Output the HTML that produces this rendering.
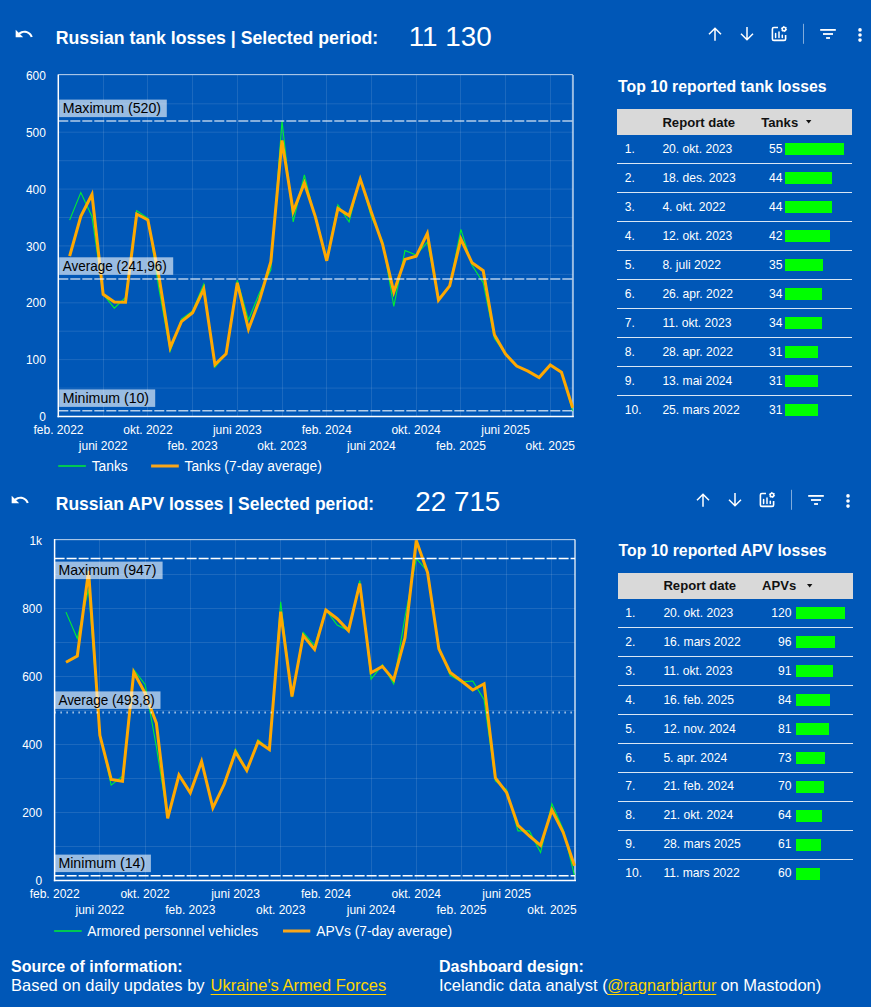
<!DOCTYPE html>
<html><head><meta charset="utf-8"><style>
html,body{margin:0;padding:0;}
body{width:871px;height:1007px;background:#0057b7;position:relative;overflow:hidden;font-family:"Liberation Sans",sans-serif;color:#fff;}
.abs{position:absolute;}
.ht{position:absolute;font-weight:bold;font-size:17.8px;white-space:nowrap;line-height:20px;}
.hn{position:absolute;font-size:27.8px;white-space:nowrap;line-height:32px;}
.tt{position:absolute;font-weight:bold;font-size:15.8px;white-space:nowrap;line-height:20px;}
.th{position:absolute;background:#d9d9d9;}
.tht{position:absolute;font-weight:bold;font-size:13.1px;color:#111;white-space:nowrap;line-height:15px;}
.td{position:absolute;font-size:12.1px;white-space:nowrap;line-height:14px;}
.bar{position:absolute;height:11.8px;background:#00ff00;}
.sep{position:absolute;height:1px;background:rgba(255,255,255,0.85);}
.ft{position:absolute;font-size:16.5px;white-space:nowrap;line-height:19px;}
.ft.b{font-size:16px;font-weight:bold;}
.ft.lk{color:#ffd500;text-decoration:underline;text-underline-offset:2.5px;}
svg text{font-family:"Liberation Sans",sans-serif;}
.grid{stroke:rgba(255,255,255,0.11);stroke-width:1;}
.bt{stroke:rgba(255,255,255,0.65);stroke-width:1;}
.br{stroke:rgba(255,255,255,0.6);stroke-width:2;}
.ax{stroke:#fff;stroke-width:1.5;}
.rl{stroke:rgba(255,255,255,0.7);stroke-width:1.5;}
.rl2{stroke:#fff;stroke-width:1.5;}
.rl3{stroke:#fff;stroke-width:2;}
.sg{fill:none;stroke:#00f030;stroke-width:1.1;stroke-linejoin:miter;stroke-miterlimit:4;}
.so{fill:none;stroke:#ffa800;stroke-width:3;stroke-linejoin:miter;stroke-miterlimit:4;}
.lb{fill:rgba(255,255,255,0.6);}
.lbt{font-size:14.2px;fill:#000;}
.yl{font-size:11.9px;fill:#fff;}
.xl{font-size:12px;fill:#fff;}
.lg{font-size:13.8px;fill:#fff;}
</style></head><body>
<svg class="abs" style="left:13.8px;top:24.3px" width="20" height="20" viewBox="0 0 24 24"><path fill="#fff" d="M12.5 8c-2.65 0-5.05.99-6.9 2.6L2 7v9h9l-3.62-3.62c1.39-1.16 3.16-1.88 5.12-1.88 3.54 0 6.55 2.31 7.6 5.5l2.37-.78C21.08 11.03 17.15 8 12.5 8z"/></svg>
<div class="ht" style="left:55.8px;top:27.8px;font-size:17.7px">Russian tank losses | Selected period:</div>
<div class="hn" style="left:408.7px;top:21px">11 130</div>
<svg class="abs" style="left:0;top:0px" width="871" height="60">
<g fill="none" stroke="#fff" stroke-width="1.5">
<path d="M715 40.7V28.5M709 34.2l6-6 6 6"/>
<path d="M747 27V39.5M741 33.7l6 6 6-6"/>
<path d="M778 27.5H773.9a1.5 1.5 0 0 0 -1.5 1.5V38.9a1.5 1.5 0 0 0 1.5 1.5H784.1a1.5 1.5 0 0 0 1.5-1.5V35" stroke-width="1.6"/>
<path d="M775.6 33.6v3.9M779 32v5.5M782.3 35.2v2.3" stroke-width="1.5" stroke-linecap="round"/>
</g>
<circle cx="784" cy="29" r="1.8" fill="none" stroke="#fff" stroke-width="1.5"/>
<circle cx="784" cy="29" r="2.6" fill="none" stroke="#fff" stroke-width="1" stroke-dasharray="1.36 1.36"/>
<line x1="803.5" x2="803.5" y1="23.8" y2="43.8" stroke="rgba(255,255,255,0.5)" stroke-width="1"/>
<rect x="820.2" y="29" width="15.6" height="1.8" fill="#fff"/>
<rect x="823" y="33.1" width="10" height="1.8" fill="#fff"/>
<rect x="826.1" y="37.1" width="3.9" height="1.8" fill="#fff"/>
<circle cx="860" cy="29.9" r="1.8" fill="#fff"/>
<circle cx="860" cy="35" r="1.8" fill="#fff"/>
<circle cx="860" cy="40.1" r="1.8" fill="#fff"/>
</svg>
<svg class="abs" style="left:10.2px;top:489.8px" width="20" height="20" viewBox="0 0 24 24"><path fill="#fff" d="M12.5 8c-2.65 0-5.05.99-6.9 2.6L2 7v9h9l-3.62-3.62c1.39-1.16 3.16-1.88 5.12-1.88 3.54 0 6.55 2.31 7.6 5.5l2.37-.78C21.08 11.03 17.15 8 12.5 8z"/></svg>
<div class="ht" style="left:55.8px;top:493.9px;font-size:17.5px">Russian APV losses | Selected period:</div>
<div class="hn" style="left:415.3px;top:486px">22 715</div>
<svg class="abs" style="left:0;top:465.5px" width="871" height="60">
<g fill="none" stroke="#fff" stroke-width="1.5">
<path d="M703 40.7V28.5M697 34.2l6-6 6 6"/>
<path d="M735 27V39.5M729 33.7l6 6 6-6"/>
<path d="M766 27.5H761.9a1.5 1.5 0 0 0 -1.5 1.5V38.9a1.5 1.5 0 0 0 1.5 1.5H772.1a1.5 1.5 0 0 0 1.5-1.5V35" stroke-width="1.6"/>
<path d="M763.6 33.6v3.9M767 32v5.5M770.3 35.2v2.3" stroke-width="1.5" stroke-linecap="round"/>
</g>
<circle cx="772" cy="29" r="1.8" fill="none" stroke="#fff" stroke-width="1.5"/>
<circle cx="772" cy="29" r="2.6" fill="none" stroke="#fff" stroke-width="1" stroke-dasharray="1.36 1.36"/>
<line x1="791.5" x2="791.5" y1="23.8" y2="43.8" stroke="rgba(255,255,255,0.5)" stroke-width="1"/>
<rect x="808.2" y="29" width="15.6" height="1.8" fill="#fff"/>
<rect x="811" y="33.1" width="10" height="1.8" fill="#fff"/>
<rect x="814.1" y="37.1" width="3.9" height="1.8" fill="#fff"/>
<circle cx="848" cy="29.9" r="1.8" fill="#fff"/>
<circle cx="848" cy="35" r="1.8" fill="#fff"/>
<circle cx="848" cy="40.1" r="1.8" fill="#fff"/>
</svg>
<svg class="abs" style="left:0;top:0" width="871" height="1007">
<line x1="58.3" x2="572.9" y1="388.1" y2="388.1" class="grid"/>
<line x1="58.3" x2="572.9" y1="359.6" y2="359.6" class="grid"/>
<line x1="58.3" x2="572.9" y1="331.2" y2="331.2" class="grid"/>
<line x1="58.3" x2="572.9" y1="302.8" y2="302.8" class="grid"/>
<line x1="58.3" x2="572.9" y1="274.4" y2="274.4" class="grid"/>
<line x1="58.3" x2="572.9" y1="245.9" y2="245.9" class="grid"/>
<line x1="58.3" x2="572.9" y1="217.5" y2="217.5" class="grid"/>
<line x1="58.3" x2="572.9" y1="189.1" y2="189.1" class="grid"/>
<line x1="58.3" x2="572.9" y1="160.7" y2="160.7" class="grid"/>
<line x1="58.3" x2="572.9" y1="132.2" y2="132.2" class="grid"/>
<line x1="58.3" x2="572.9" y1="103.8" y2="103.8" class="grid"/>
<line x1="58.3" x2="572.9" y1="75.4" y2="75.4" class="grid"/>
<line x1="103.5" x2="103.5" y1="75" y2="416.6" class="grid"/>
<line x1="147.5" x2="147.5" y1="75" y2="416.6" class="grid"/>
<line x1="192.5" x2="192.5" y1="75" y2="416.6" class="grid"/>
<line x1="237.5" x2="237.5" y1="75" y2="416.6" class="grid"/>
<line x1="282.5" x2="282.5" y1="75" y2="416.6" class="grid"/>
<line x1="326.5" x2="326.5" y1="75" y2="416.6" class="grid"/>
<line x1="371.5" x2="371.5" y1="75" y2="416.6" class="grid"/>
<line x1="416.5" x2="416.5" y1="75" y2="416.6" class="grid"/>
<line x1="460.5" x2="460.5" y1="75" y2="416.6" class="grid"/>
<line x1="505.5" x2="505.5" y1="75" y2="416.6" class="grid"/>
<line x1="550.5" x2="550.5" y1="75" y2="416.6" class="grid"/>
<line x1="58.3" x2="572.9" y1="74.5" y2="74.5" class="bt"/>
<line x1="572.9" x2="572.9" y1="75" y2="416.6" class="br"/>
<clipPath id="ct"><rect x="53.3" y="75" width="524.6" height="346.6"/></clipPath>
<g clip-path="url(#ct)">
<polyline points="69.63,220.1 80.81,192.6 91.98,216.4 103.16,294.3 114.34,308.2 125.52,297.5 136.70,210.6 147.87,218.3 159.05,289.4 170.23,351.2 181.41,319.0 192.59,311.0 203.76,284.0 214.94,367.3 226.12,353.8 237.30,280.3 248.48,320.0 259.65,292.6 270.83,269.8 282.01,121.0 293.19,221.9 304.37,175.0 315.54,219.6 326.72,258.4 337.90,205.0 349.08,222.0 360.26,177.5 371.43,217.2 382.61,241.1 393.79,306.3 404.97,250.6 416.15,255.0 427.32,242.1 438.50,298.6 449.68,285.9 460.86,229.4 472.04,265.2 483.21,282.7 494.39,338.3 505.57,354.1 516.75,366.0 527.93,371.1 539.10,377.6 550.28,364.9 561.46,372.2 572.64,410.8" class="sg"/>
<polyline points="69.63,256.2 80.81,216.4 91.98,194.5 103.16,294.3 114.34,302.0 125.52,302.3 136.70,214.0 147.87,219.9 159.05,276.9 170.23,347.6 181.41,321.6 192.59,312.7 203.76,289.0 214.94,364.6 226.12,353.8 237.30,282.8 248.48,329.2 259.65,299.5 270.83,261.8 282.01,140.5 293.19,211.6 304.37,183.0 315.54,217.3 326.72,260.8 337.90,208.5 349.08,215.6 360.26,179.1 371.43,212.5 382.61,244.3 393.79,292.0 404.97,259.4 416.15,256.3 427.32,233.4 438.50,300.2 449.68,285.9 460.86,239.0 472.04,262.8 483.21,270.7 494.39,334.8 505.57,354.1 516.75,366.0 527.93,371.1 539.10,377.6 550.28,364.9 561.46,372.2 572.64,407.8" class="so"/>
</g>
<line x1="58.3" x2="572.9" y1="120.9" y2="120.9" class="rl" stroke-dasharray="10 2"/>
<line x1="58.3" x2="572.9" y1="278.9" y2="278.9" class="rl" stroke-dasharray="10 2"/>
<line x1="58.3" x2="572.9" y1="410.8" y2="410.8" class="rl" stroke-dasharray="10 2"/>
<rect x="59.2" y="99.6" width="107.6" height="17.5" class="lb"/>
<text x="62.7" y="113.39999999999999" class="lbt" textLength="98.4" lengthAdjust="spacingAndGlyphs">Maximum (520)</text>
<rect x="59.2" y="257.3" width="114" height="17.5" class="lb"/>
<text x="62.7" y="271.1" class="lbt" textLength="104.1" lengthAdjust="spacingAndGlyphs">Average (241,96)</text>
<rect x="59.2" y="389.4" width="96" height="17.5" class="lb"/>
<text x="62.7" y="403.2" class="lbt" textLength="86.4" lengthAdjust="spacingAndGlyphs">Minimum (10)</text>
<line x1="58.3" x2="58.3" y1="74.5" y2="417.35" class="ax"/>
<line x1="57.55" x2="573.9" y1="416.6" y2="416.6" class="ax"/>
<text x="45.8" y="421.1" class="yl" text-anchor="end">0</text>
<text x="45.8" y="364.2" class="yl" text-anchor="end">100</text>
<text x="45.8" y="307.4" class="yl" text-anchor="end">200</text>
<text x="45.8" y="250.5" class="yl" text-anchor="end">300</text>
<text x="45.8" y="193.7" class="yl" text-anchor="end">400</text>
<text x="45.8" y="136.8" class="yl" text-anchor="end">500</text>
<text x="45.8" y="80.0" class="yl" text-anchor="end">600</text>
<text x="58.5" y="434.2" class="xl" text-anchor="middle">feb. 2022</text>
<text x="103.2" y="449.9" class="xl" text-anchor="middle">juni 2022</text>
<text x="147.9" y="434.2" class="xl" text-anchor="middle">okt. 2022</text>
<text x="192.6" y="449.9" class="xl" text-anchor="middle">feb. 2023</text>
<text x="237.3" y="434.2" class="xl" text-anchor="middle">juni 2023</text>
<text x="282.0" y="449.9" class="xl" text-anchor="middle">okt. 2023</text>
<text x="326.7" y="434.2" class="xl" text-anchor="middle">feb. 2024</text>
<text x="371.4" y="449.9" class="xl" text-anchor="middle">juni 2024</text>
<text x="416.1" y="434.2" class="xl" text-anchor="middle">okt. 2024</text>
<text x="460.9" y="449.9" class="xl" text-anchor="middle">feb. 2025</text>
<text x="505.6" y="434.2" class="xl" text-anchor="middle">juni 2025</text>
<text x="550.3" y="449.9" class="xl" text-anchor="middle">okt. 2025</text>
<line x1="58.2" x2="85.9" y1="466" y2="466" stroke="#00c853" stroke-width="2"/>
<text x="91.7" y="470.8" class="lg">Tanks</text>
<line x1="151.1" x2="178.8" y1="466" y2="466" stroke="#f9a61a" stroke-width="3"/>
<text x="184.5" y="470.8" class="lg">Tanks (7-day average)</text>
<line x1="54.6" x2="575" y1="846.5" y2="846.5" class="grid"/>
<line x1="54.6" x2="575" y1="812.5" y2="812.5" class="grid"/>
<line x1="54.6" x2="575" y1="778.5" y2="778.5" class="grid"/>
<line x1="54.6" x2="575" y1="744.5" y2="744.5" class="grid"/>
<line x1="54.6" x2="575" y1="710.5" y2="710.5" class="grid"/>
<line x1="54.6" x2="575" y1="676.5" y2="676.5" class="grid"/>
<line x1="54.6" x2="575" y1="642.5" y2="642.5" class="grid"/>
<line x1="54.6" x2="575" y1="608.5" y2="608.5" class="grid"/>
<line x1="54.6" x2="575" y1="574.5" y2="574.5" class="grid"/>
<line x1="54.6" x2="575" y1="540.5" y2="540.5" class="grid"/>
<line x1="99.5" x2="99.5" y1="539.6" y2="880.6" class="grid"/>
<line x1="145.5" x2="145.5" y1="539.6" y2="880.6" class="grid"/>
<line x1="190.5" x2="190.5" y1="539.6" y2="880.6" class="grid"/>
<line x1="235.5" x2="235.5" y1="539.6" y2="880.6" class="grid"/>
<line x1="280.5" x2="280.5" y1="539.6" y2="880.6" class="grid"/>
<line x1="325.5" x2="325.5" y1="539.6" y2="880.6" class="grid"/>
<line x1="371.5" x2="371.5" y1="539.6" y2="880.6" class="grid"/>
<line x1="416.5" x2="416.5" y1="539.6" y2="880.6" class="grid"/>
<line x1="461.5" x2="461.5" y1="539.6" y2="880.6" class="grid"/>
<line x1="506.5" x2="506.5" y1="539.6" y2="880.6" class="grid"/>
<line x1="551.5" x2="551.5" y1="539.6" y2="880.6" class="grid"/>
<line x1="54.6" x2="575" y1="539.5" y2="539.5" class="bt"/>
<line x1="575" x2="575" y1="539.6" y2="880.6" class="br"/>
<clipPath id="ca"><rect x="49.6" y="539.6" width="530.4" height="346.0"/></clipPath>
<g clip-path="url(#ca)">
<polyline points="65.98,612.1 77.28,638.5 88.58,589.0 99.88,734.0 111.18,785.1 122.48,776.2 133.78,669.7 145.08,684.5 156.38,746.7 167.68,818.0 178.98,775.0 190.28,792.8 201.58,761.4 212.88,807.8 224.18,784.3 235.48,749.0 246.78,770.5 258.08,739.7 269.38,749.6 280.68,601.8 291.98,697.1 303.28,632.6 314.58,645.5 325.88,610.0 337.18,625.1 348.48,630.6 359.78,580.5 371.08,679.1 382.38,664.8 393.68,683.9 404.98,617.0 416.28,558.5 427.58,571.5 438.88,647.0 450.18,675.3 461.48,681.9 472.78,681.0 484.08,699.8 495.38,780.9 506.68,789.9 517.98,830.9 529.28,830.9 540.58,852.5 551.88,803.8 563.18,829.5 574.48,875.7" class="sg"/>
<polyline points="65.98,662.2 77.28,656.0 88.58,571.0 99.88,735.3 111.18,779.4 122.48,781.3 133.78,672.2 145.08,693.0 156.38,723.2 167.68,818.4 178.98,775.0 190.28,792.8 201.58,761.4 212.88,807.8 224.18,784.3 235.48,752.0 246.78,770.5 258.08,741.7 269.38,749.6 280.68,611.7 291.98,696.5 303.28,635.6 314.58,649.4 325.88,610.0 337.18,618.7 348.48,630.6 359.78,583.6 371.08,672.7 382.38,666.4 393.68,679.9 404.98,638.0 416.28,540.5 427.58,572.5 438.88,648.9 450.18,672.5 461.48,681.0 472.78,690.0 484.08,683.8 495.38,778.0 506.68,792.7 517.98,825.4 529.28,835.8 540.58,845.5 551.88,810.0 563.18,832.3 574.48,865.7" class="so"/>
</g>
<line x1="54.6" x2="575" y1="558.5" y2="558.5" class="rl2" stroke-dasharray="10 2"/>
<line x1="54.6" x2="575" y1="712.6" y2="712.6" class="rl3" stroke-dasharray="1 5"/>
<line x1="54.6" x2="575" y1="875.7" y2="875.7" class="rl2" stroke-dasharray="10 2"/>
<rect x="54.9" y="561.6" width="107.7" height="17.5" class="lb"/>
<text x="58.4" y="575.4" class="lbt" textLength="98" lengthAdjust="spacingAndGlyphs">Maximum (947)</text>
<rect x="54.9" y="691.4" width="105.6" height="17.5" class="lb"/>
<text x="58.4" y="705.1999999999999" class="lbt" textLength="96.4" lengthAdjust="spacingAndGlyphs">Average (493,8)</text>
<rect x="54.9" y="854.6" width="96" height="17.5" class="lb"/>
<text x="58.4" y="868.4" class="lbt" textLength="86.8" lengthAdjust="spacingAndGlyphs">Minimum (14)</text>
<line x1="54.6" x2="54.6" y1="539.1" y2="881.35" class="ax"/>
<line x1="53.85" x2="576" y1="880.6" y2="880.6" class="ax"/>
<text x="42" y="885.1" class="yl" text-anchor="end">0</text>
<text x="42" y="817.1" class="yl" text-anchor="end">200</text>
<text x="42" y="749.1" class="yl" text-anchor="end">400</text>
<text x="42" y="681.1" class="yl" text-anchor="end">600</text>
<text x="42" y="613.1" class="yl" text-anchor="end">800</text>
<text x="42" y="545.1" class="yl" text-anchor="end">1k</text>
<text x="54.7" y="898.3" class="xl" text-anchor="middle">feb. 2022</text>
<text x="99.9" y="914.1" class="xl" text-anchor="middle">juni 2022</text>
<text x="145.1" y="898.3" class="xl" text-anchor="middle">okt. 2022</text>
<text x="190.3" y="914.1" class="xl" text-anchor="middle">feb. 2023</text>
<text x="235.5" y="898.3" class="xl" text-anchor="middle">juni 2023</text>
<text x="280.7" y="914.1" class="xl" text-anchor="middle">okt. 2023</text>
<text x="325.9" y="898.3" class="xl" text-anchor="middle">feb. 2024</text>
<text x="371.1" y="914.1" class="xl" text-anchor="middle">juni 2024</text>
<text x="416.3" y="898.3" class="xl" text-anchor="middle">okt. 2024</text>
<text x="461.5" y="914.1" class="xl" text-anchor="middle">feb. 2025</text>
<text x="506.7" y="898.3" class="xl" text-anchor="middle">juni 2025</text>
<text x="551.9" y="914.1" class="xl" text-anchor="middle">okt. 2025</text>
<line x1="54.1" x2="81.7" y1="931" y2="931" stroke="#00c853" stroke-width="2"/>
<text x="87.2" y="936.4" class="lg">Armored personnel vehicles</text>
<line x1="283" x2="310.3" y1="931" y2="931" stroke="#f9a61a" stroke-width="3"/>
<text x="316.3" y="936.4" class="lg">APVs (7-day average)</text>
</svg>
<div class="tt" style="left:618px;top:76.7px">Top 10 reported tank losses</div>
<div class="th" style="left:617.2px;top:109.3px;width:234.79999999999995px;height:25.5px"></div>
<div class="tht" style="left:662.4px;top:114.8px">Report date</div>
<div class="tht" style="left:761.3px;top:114.8px">Tanks</div>
<svg class="abs" style="left:805.8px;top:120.1px" width="6" height="4"><path d="M0 0H5.4L2.7 3.6Z" fill="#111"/></svg>
<div class="td" style="left:624.8px;top:142.0px">1.</div>
<div class="td" style="left:662.4px;top:142.0px">20. okt. 2023</div>
<div class="td tr" style="right:88.5px;top:142.0px">55</div>
<div class="bar" style="left:785.1px;top:142.9px;width:59.0px"></div>
<div class="sep" style="left:617.2px;top:162.83px;width:234.79999999999995px"></div>
<div class="td" style="left:624.8px;top:171.03px">2.</div>
<div class="td" style="left:662.4px;top:171.03px">18. des. 2023</div>
<div class="td tr" style="right:88.5px;top:171.03px">44</div>
<div class="bar" style="left:785.1px;top:171.93px;width:47.2px"></div>
<div class="sep" style="left:617.2px;top:191.86px;width:234.79999999999995px"></div>
<div class="td" style="left:624.8px;top:200.06px">3.</div>
<div class="td" style="left:662.4px;top:200.06px">4. okt. 2022</div>
<div class="td tr" style="right:88.5px;top:200.06px">44</div>
<div class="bar" style="left:785.1px;top:200.96px;width:47.2px"></div>
<div class="sep" style="left:617.2px;top:220.89000000000001px;width:234.79999999999995px"></div>
<div class="td" style="left:624.8px;top:229.09px">4.</div>
<div class="td" style="left:662.4px;top:229.09px">12. okt. 2023</div>
<div class="td tr" style="right:88.5px;top:229.09px">42</div>
<div class="bar" style="left:785.1px;top:229.99px;width:45.1px"></div>
<div class="sep" style="left:617.2px;top:249.92000000000002px;width:234.79999999999995px"></div>
<div class="td" style="left:624.8px;top:258.12px">5.</div>
<div class="td" style="left:662.4px;top:258.12px">8. juli 2022</div>
<div class="td tr" style="right:88.5px;top:258.12px">35</div>
<div class="bar" style="left:785.1px;top:259.02000000000004px;width:37.6px"></div>
<div class="sep" style="left:617.2px;top:278.95000000000005px;width:234.79999999999995px"></div>
<div class="td" style="left:624.8px;top:287.15000000000003px">6.</div>
<div class="td" style="left:662.4px;top:287.15000000000003px">26. apr. 2022</div>
<div class="td tr" style="right:88.5px;top:287.15000000000003px">34</div>
<div class="bar" style="left:785.1px;top:288.05000000000007px;width:36.5px"></div>
<div class="sep" style="left:617.2px;top:307.98px;width:234.79999999999995px"></div>
<div class="td" style="left:624.8px;top:316.18px">7.</div>
<div class="td" style="left:662.4px;top:316.18px">11. okt. 2023</div>
<div class="td tr" style="right:88.5px;top:316.18px">34</div>
<div class="bar" style="left:785.1px;top:317.08000000000004px;width:36.5px"></div>
<div class="sep" style="left:617.2px;top:337.01px;width:234.79999999999995px"></div>
<div class="td" style="left:624.8px;top:345.21px">8.</div>
<div class="td" style="left:662.4px;top:345.21px">28. apr. 2022</div>
<div class="td tr" style="right:88.5px;top:345.21px">31</div>
<div class="bar" style="left:785.1px;top:346.11px;width:33.3px"></div>
<div class="sep" style="left:617.2px;top:366.03999999999996px;width:234.79999999999995px"></div>
<div class="td" style="left:624.8px;top:374.24px">9.</div>
<div class="td" style="left:662.4px;top:374.24px">13. mai 2024</div>
<div class="td tr" style="right:88.5px;top:374.24px">31</div>
<div class="bar" style="left:785.1px;top:375.14000000000004px;width:33.3px"></div>
<div class="sep" style="left:617.2px;top:395.07000000000005px;width:234.79999999999995px"></div>
<div class="td" style="left:624.8px;top:403.27px">10.</div>
<div class="td" style="left:662.4px;top:403.27px">25. mars 2022</div>
<div class="td tr" style="right:88.5px;top:403.27px">31</div>
<div class="bar" style="left:785.1px;top:404.17px;width:33.3px"></div>
<div class="tt" style="left:618.6px;top:540.5px">Top 10 reported APV losses</div>
<div class="th" style="left:617.9px;top:572.9px;width:235.20000000000005px;height:26.2px"></div>
<div class="tht" style="left:663.4px;top:578.4px">Report date</div>
<div class="tht" style="left:762px;top:578.4px">APVs</div>
<svg class="abs" style="left:806.5px;top:583.6999999999999px" width="6" height="4"><path d="M0 0H5.4L2.7 3.6Z" fill="#111"/></svg>
<div class="td" style="left:625.3px;top:605.7px">1.</div>
<div class="td" style="left:663.4px;top:605.7px">20. okt. 2023</div>
<div class="td tr" style="right:79.5px;top:605.7px">120</div>
<div class="bar" style="left:795.5px;top:607.2px;width:49.2px"></div>
<div class="sep" style="left:617.9px;top:627.0600000000001px;width:235.20000000000005px"></div>
<div class="td" style="left:625.3px;top:634.6600000000001px">2.</div>
<div class="td" style="left:663.4px;top:634.6600000000001px">16. mars 2022</div>
<div class="td tr" style="right:79.5px;top:634.6600000000001px">96</div>
<div class="bar" style="left:795.5px;top:636.1600000000001px;width:39.4px"></div>
<div class="sep" style="left:617.9px;top:656.0200000000001px;width:235.20000000000005px"></div>
<div class="td" style="left:625.3px;top:663.62px">3.</div>
<div class="td" style="left:663.4px;top:663.62px">11. okt. 2023</div>
<div class="td tr" style="right:79.5px;top:663.62px">91</div>
<div class="bar" style="left:795.5px;top:665.12px;width:37.3px"></div>
<div class="sep" style="left:617.9px;top:684.98px;width:235.20000000000005px"></div>
<div class="td" style="left:625.3px;top:692.58px">4.</div>
<div class="td" style="left:663.4px;top:692.58px">16. feb. 2025</div>
<div class="td tr" style="right:79.5px;top:692.58px">84</div>
<div class="bar" style="left:795.5px;top:694.08px;width:34.4px"></div>
<div class="sep" style="left:617.9px;top:713.94px;width:235.20000000000005px"></div>
<div class="td" style="left:625.3px;top:721.5400000000001px">5.</div>
<div class="td" style="left:663.4px;top:721.5400000000001px">12. nov. 2024</div>
<div class="td tr" style="right:79.5px;top:721.5400000000001px">81</div>
<div class="bar" style="left:795.5px;top:723.0400000000001px;width:33.2px"></div>
<div class="sep" style="left:617.9px;top:742.9000000000001px;width:235.20000000000005px"></div>
<div class="td" style="left:625.3px;top:750.5000000000001px">6.</div>
<div class="td" style="left:663.4px;top:750.5000000000001px">5. apr. 2024</div>
<div class="td tr" style="right:79.5px;top:750.5000000000001px">73</div>
<div class="bar" style="left:795.5px;top:752.0000000000001px;width:29.9px"></div>
<div class="sep" style="left:617.9px;top:771.8600000000001px;width:235.20000000000005px"></div>
<div class="td" style="left:625.3px;top:779.46px">7.</div>
<div class="td" style="left:663.4px;top:779.46px">21. feb. 2024</div>
<div class="td tr" style="right:79.5px;top:779.46px">70</div>
<div class="bar" style="left:795.5px;top:780.96px;width:28.7px"></div>
<div class="sep" style="left:617.9px;top:800.82px;width:235.20000000000005px"></div>
<div class="td" style="left:625.3px;top:808.4200000000001px">8.</div>
<div class="td" style="left:663.4px;top:808.4200000000001px">21. okt. 2024</div>
<div class="td tr" style="right:79.5px;top:808.4200000000001px">64</div>
<div class="bar" style="left:795.5px;top:809.9200000000001px;width:26.2px"></div>
<div class="sep" style="left:617.9px;top:829.7800000000001px;width:235.20000000000005px"></div>
<div class="td" style="left:625.3px;top:837.38px">9.</div>
<div class="td" style="left:663.4px;top:837.38px">28. mars 2025</div>
<div class="td tr" style="right:79.5px;top:837.38px">61</div>
<div class="bar" style="left:795.5px;top:838.88px;width:25.0px"></div>
<div class="sep" style="left:617.9px;top:858.74px;width:235.20000000000005px"></div>
<div class="td" style="left:625.3px;top:866.34px">10.</div>
<div class="td" style="left:663.4px;top:866.34px">11. mars 2022</div>
<div class="td tr" style="right:79.5px;top:866.34px">60</div>
<div class="bar" style="left:795.5px;top:867.84px;width:24.6px"></div>
<div class="ft b" style="left:11px;top:957.1px">Source of information:</div>
<div class="ft" style="left:11px;top:975.5px">Based on daily updates by</div>
<div class="ft lk" style="left:210.6px;top:975.5px">Ukraine's Armed Forces</div>
<div class="ft b" style="left:439px;top:957.1px">Dashboard design:</div>
<div class="ft" style="left:439px;top:975.5px">Icelandic data analyst (</div>
<div class="ft lk" style="left:607.2px;top:975.5px;font-size:16.2px">@ragnarbjartur</div>
<div class="ft" style="left:720.4px;top:975.5px">on Mastodon)</div>
</body></html>
